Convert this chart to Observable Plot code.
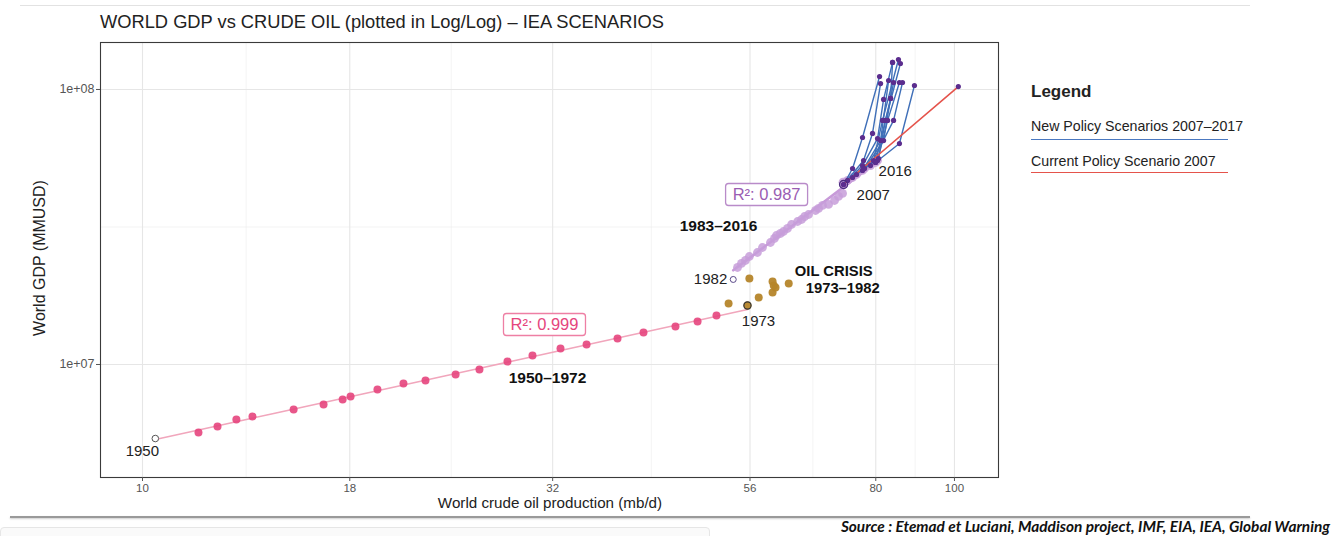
<!DOCTYPE html>
<html>
<head>
<meta charset="utf-8">
<script src="https://cdn.jsdelivr.net/npm/d3@7"></script>
<script src="https://cdn.jsdelivr.net/npm/@observablehq/plot@0.6"></script>
<style>
  body { margin: 0; background: #fff; font-family: "Liberation Sans", Arial, sans-serif; }
  #wrap { position: relative; width: 1332px; height: 536px; overflow: hidden; background: #fff; }
  #chart { position: absolute; left: 0; top: 0; }
  .abs { position: absolute; white-space: nowrap; }
  .title { left: 100px; top: 11px; font-size: 18.3px; color: #222; }
  .ytitle { left: 40px; top: 258px; font-size: 16px; color: #222; transform: translate(-50%, -50%) rotate(-90deg); }
  .xtitle { left: 550px; top: 502px; font-size: 15.2px; line-height: 15px; color: #222; transform: translate(-50%, -50%); }
  .legend-head { left: 1031px; top: 82px; font-size: 17px; font-weight: bold; color: #222; }
  .legend-item { left: 1031px; font-size: 14.2px; color: #222; }
  .legend-line { left: 1031px; width: 197px; height: 0; }
  .source { right: 2px; top: 517px; font-family: Lato, "Open Sans", sans-serif; font-weight: bold; font-style: italic; font-size: 15.4px; color: #111; }
  .rule-top { left: 20px; top: 5px; width: 1230px; height: 0; border-top: 1.5px solid #e2e2e2; }
  .rule-bottom { left: 10px; top: 516px; width: 1240px; height: 0; border-top: 2px solid #9a9a9a; box-shadow: 0 1px 2px #ccc; }
  .tab { left: 0; top: 527px; width: 708px; height: 20px; border: 1px solid #e6e6e6; border-radius: 4px; background: #fafafa; }
</style>
</head>
<body>
<div id="wrap">
  <div class="abs rule-top"></div>
  <div class="abs title">WORLD GDP vs CRUDE OIL (plotted in Log/Log) – IEA SCENARIOS</div>
  <div id="chart"></div>
  <div class="abs ytitle">World GDP (MMUSD)</div>
  <div class="abs xtitle">World crude oil production (mb/d)</div>
  <div class="abs legend-head">Legend</div>
  <div class="abs legend-item" style="top:118px;">New Policy Scenarios 2007–2017</div>
  <div class="abs legend-line" style="top:139px; border-top:1.6px solid #4a78c0;"></div>
  <div class="abs legend-item" style="top:153px;">Current Policy Scenario 2007</div>
  <div class="abs legend-line" style="top:172px; border-top:1.6px solid #e5534b;"></div>
  <div class="abs rule-bottom"></div>
  <div class="abs tab"></div>
  <div class="abs source">Source : Etemad et Luciani, Maddison project, IMF, EIA, IEA, Global Warning</div>
</div>
<script>
// ---- Historical series: world crude oil production (mb/d) and world GDP (MMUSD) ----
const years5072 = [1950,1951,1952,1953,1954,1955,1956,1957,1958,1959,1960,1961,1962,1963,1964,1965,1966,1967,1968,1969,1970,1971,1972];
const oil5072 = [10.37,11.72,12.37,13.05,13.66,15.35,16.71,17.64,18.04,19.47,20.96,22.31,24.30,26.00,28.15,30.22,32.72,35.23,38.46,41.40,45.33,48.26,50.92];
const gdp5072 = [5.38e6,5.66e6,5.95e6,6.31e6,6.47e6,6.86e6,7.15e6,7.46e6,7.65e6,8.11e6,8.53e6,8.75e6,9.20e6,9.59e6,1.025e7,1.078e7,1.144e7,1.182e7,1.243e7,1.307e7,1.375e7,1.434e7,1.507e7];

const years7382 = [1973,1974,1975,1976,1977,1978,1979,1980,1981,1982];
const oil7382 = [55.6,52.7,57.4,59.7,60.2,59.9,62.5,59.7,55.9,53.4];
const gdp7382 = [1.639e7,1.667e7,1.752e7,1.827e7,1.905e7,1.938e7,1.970e7,2.004e7,2.055e7,2.038e7];

const years8316 = [1983,1984,1985,1986,1987,1988,1989,1990,1991,1992,1993,1994,1995,1996,1997,1998,1999,2000,2001,2002,2003,2004,2005,2006,2007,2008,2009,2010,2011,2012,2013,2014,2015,2016];
const oil8316 = [54.05,54.66,55.28,55.90,57.19,58.01,59.34,60.02,60.36,61.05,61.58,62.28,63.00,64.09,64.82,65.37,66.12,67.44,68.02,68.79,69.97,71.17,71.98,72.81,73.02,73.85,72.90,74.90,75.75,77.05,77.49,78.82,79.94,80.40];
const gdp8316 = [2.253e7,2.330e7,2.389e7,2.470e7,2.554e7,2.663e7,2.777e7,2.872e7,2.945e7,2.995e7,3.045e7,3.123e7,3.229e7,3.311e7,3.367e7,3.452e7,3.511e7,3.631e7,3.693e7,3.787e7,3.819e7,3.948e7,4.083e7,4.187e7,4.513e7,4.668e7,4.600e7,4.786e7,4.908e7,5.076e7,5.161e7,5.290e7,5.426e7,5.518e7];

// ---- IEA New Policies Scenarios (one path per WEO edition) ----
const npsOil = [
  [73.02,74.90,77.05,80.86],
  [73.02,77.27,79.26,81.09],
  [73.85,77.05,80.40,81.79,83.90],
  [74.90,79.49,81.55,85.31],
  [75.75,80.63,82.22,85.79],
  [77.05,81.09,82.96],
  [77.49,81.79,83.43,84.14],
  [78.82,84.14,86.30],
  [79.94,85.55,89.27],
  [80.40,82.73,85.55],
  [79.94,83.43,83.90]
];
const npsGdp = [
  [4.513e7,5.161e7,6.69e7,1.115e8],
  [4.513e7,5.518e7,6.92e7,1.051e8],
  [4.668e7,5.290e7,6.63e7,9.20e7,1.254e8],
  [4.786e7,5.518e7,7.72e7,1.285e8],
  [4.908e7,5.61e7,7.72e7,1.243e8],
  [5.076e7,6.52e7,1.078e8],
  [5.161e7,6.52e7,9.28e7,1.060e8],
  [5.290e7,7.72e7,1.060e8],
  [5.426e7,6.36e7,1.034e8],
  [5.518e7,7.72e7,1.060e8],
  [5.426e7,9.28e7,1.254e8]
];
// ---- IEA Current Policy Scenario 2007 ----
const cpsOil = [73.02, 101.1];
const cpsGdp = [4.513e7, 1.025e8];

// ---- Axis ticks ----
const xTicks = [10, 18, 32, 56, 80, 100];
const xTickLabels = ["10", "18", "32", "56", "80", "100"];
const yTicks = [1e7, 1e8];
const yTickLabels = ["1e+07", "1e+08"];
const r2Labels = ["R²: 0.999", "R²: 0.987"];

// ---- Build tables ----
const zip = (ys, xs, gs) => ys.map((year, i) => ({year, oil: xs[i], gdp: gs[i]}));
const early = zip(years5072, oil5072, gdp5072);
const crisis = zip(years7382, oil7382, gdp7382);
const late = zip(years8316, oil8316, gdp8316);
const nps = npsOil.flatMap((xs, k) => xs.map((oil, i) => ({scenario: k, oil, gdp: npsGdp[k][i]})));
const cps = cpsOil.map((oil, i) => ({oil, gdp: cpsGdp[i]}));
const byYear = y => [...early, ...crisis, ...late].find(d => d.year === y);

// least squares fit in log/log space
function fitLogLog(rows) {
  const lx = rows.map(d => Math.log10(d.oil)), ly = rows.map(d => Math.log10(d.gdp));
  const mx = d3.mean(lx), my = d3.mean(ly);
  const b = d3.sum(lx, (v, i) => (v - mx) * (ly[i] - my)) / d3.sum(lx, v => (v - mx) ** 2);
  const a = my - b * mx;
  return x => 10 ** (a + b * Math.log10(x));
}
const fitEarly = fitLogLog(early);
const fitLate = fitLogLog(late);
const lineFrom = (f, x0, x1) => d3.range(0, 21).map(i => {
  const x = 10 ** (Math.log10(x0) + (Math.log10(x1) - Math.log10(x0)) * i / 20);
  return {oil: x, gdp: f(x)};
});
const fitEarlyLine = lineFrom(fitEarly, byYear(1950).oil, byYear(1973).oil);
const fitLateLine = lineFrom(fitLate, byYear(1982).oil, byYear(2016).oil);

// minor grid at geometric midpoints between ticks
const mid = (a, b) => Math.sqrt(a * b);
const xMinor = xTicks.slice(1).map((t, i) => mid(xTicks[i], t));
const yMinor = [mid(1e7, 1e8)];

// rounded rectangle used as the box of an R² label
const roundBox = (w, h, r) => ({
  draw(ctx) {
    const x0 = -w / 2, y0 = -h / 2, x1 = w / 2, y1 = h / 2;
    ctx.moveTo(x0 + r, y0);
    ctx.lineTo(x1 - r, y0); ctx.arcTo(x1, y0, x1, y0 + r, r);
    ctx.lineTo(x1, y1 - r); ctx.arcTo(x1, y1, x1 - r, y1, r);
    ctx.lineTo(x0 + r, y1); ctx.arcTo(x0, y1, x0, y1 - r, r);
    ctx.lineTo(x0, y0 + r); ctx.arcTo(x0, y0, x0 + r, y0, r);
    ctx.closePath();
  }
});

const pink = "#e5457d", brown = "#b5852a", lilac = "#c79ed9", purple = "#5b2d8e", blue = "#3f6fb8", red = "#e5534b";
const font = "Liberation Sans, Arial, sans-serif";

const p1965 = byYear(1965), p1973 = byYear(1973), p1979 = byYear(1979), p1982 = byYear(1982),
      p1993 = byYear(1993), p1996 = byYear(1996), p2007 = byYear(2007), p2016 = byYear(2016), p1950 = byYear(1950);

const chart = Plot.plot({
  width: 1332,
  height: 536,
  marginLeft: 100,
  marginRight: 334,
  marginTop: 42,
  marginBottom: 59,
  style: {fontFamily: font, background: "transparent", overflow: "visible"},
  x: {type: "log", domain: [8.877, 113.3], axis: null},
  y: {type: "log", domain: [3.882e6, 1.482e8], axis: null},
  marks: [
    Plot.gridX(xMinor, {stroke: "#ededed", strokeOpacity: 1, strokeWidth: 0.6}),
    Plot.gridY(yMinor, {stroke: "#ededed", strokeOpacity: 1, strokeWidth: 0.6}),
    Plot.gridX(xTicks, {stroke: "#e6e6e6", strokeOpacity: 1, strokeWidth: 1.1}),
    Plot.gridY(yTicks, {stroke: "#e6e6e6", strokeOpacity: 1, strokeWidth: 1.1}),
    Plot.frame({stroke: "#3a3a3a", strokeWidth: 1.1}),
    Plot.axisX({ticks: xTicks, tickFormat: d => xTickLabels[xTicks.indexOf(d)], tickSize: 4, tickPadding: 2, fontSize: 11.5, color: "#555", label: null}),
    Plot.axisY({ticks: yTicks, tickFormat: d => yTickLabels[yTicks.indexOf(d)], tickSize: 4, tickPadding: 2, fontSize: 12.5, color: "#555", label: null}),

    // regression lines
    Plot.line(fitEarlyLine, {x: "oil", y: "gdp", stroke: "#f1a6bc", strokeWidth: 1.6}),
    Plot.line(fitLateLine, {x: "oil", y: "gdp", stroke: "#c89ad9", strokeWidth: 2.6}),

    // historical points
    Plot.dot(early.filter(d => d.year > 1950), {x: "oil", y: "gdp", r: 4, fill: pink, fillOpacity: 0.9}),
    Plot.dot(crisis.filter(d => d.year < 1982), {x: "oil", y: "gdp", r: 4, fill: brown, fillOpacity: 0.95}),
    Plot.dot(late, {x: "oil", y: "gdp", r: 4.4, fill: lilac, fillOpacity: 0.85}),

    // IEA scenario paths
    Plot.line(nps, {x: "oil", y: "gdp", z: "scenario", stroke: blue, strokeWidth: 1.4}),
    Plot.line(cps, {x: "oil", y: "gdp", stroke: red, strokeWidth: 1.6}),
    Plot.dot(nps, {x: "oil", y: "gdp", r: 2.6, fill: purple}),
    Plot.dot(cps.slice(1), {x: "oil", y: "gdp", r: 2.6, fill: purple}),

    // marker rings on the regime breaks
    Plot.dot([p1950], {x: "oil", y: "gdp", r: 3.3, stroke: "#555", fill: "white", strokeWidth: 1}),
    Plot.dot([p1973], {x: "oil", y: "gdp", r: 3.6, stroke: "#333", strokeWidth: 1.2}),
    Plot.dot([p1982], {x: "oil", y: "gdp", r: 3.0, stroke: "#5b4a8a", fill: "white", strokeWidth: 1}),
    Plot.dot([p2007], {x: "oil", y: "gdp", r: 4, stroke: "#4b2c80", strokeWidth: 1.4}),

    // year labels
    Plot.text([p1950], {x: "oil", y: "gdp", text: () => "1950", dx: -13, dy: 13, fontSize: 15, fill: "#222"}),
    Plot.text([p1973], {x: "oil", y: "gdp", text: () => "1973", dx: 11, dy: 16, fontSize: 15, fill: "#222"}),
    Plot.text([p1982], {x: "oil", y: "gdp", text: () => "1982", dx: -6, dy: 0, textAnchor: "end", fontSize: 15, fill: "#222"}),
    Plot.text([p2007], {x: "oil", y: "gdp", text: () => "2007", dx: 13, dy: 11, textAnchor: "start", fontSize: 15, fill: "#222"}),
    Plot.text([p2016], {x: "oil", y: "gdp", text: () => "2016", dx: 1, dy: 11, textAnchor: "start", fontSize: 15, fill: "#222"}),

    // period labels
    Plot.text([p1965], {x: "oil", y: "gdp", text: () => "1950–1972", dx: 15, dy: 23, fontSize: 15.5, fontWeight: "bold", fill: "#111"}),
    Plot.text([p1993], {x: "oil", y: "gdp", text: () => "1983–2016", dx: -65, dy: -5, fontSize: 15.5, fontWeight: "bold", fill: "#111"}),
    Plot.text([p1979], {x: "oil", y: "gdp", text: () => "OIL CRISIS", dx: 45, dy: -12.5, fontSize: 14.8, fontWeight: "bold", fill: "#111"}),
    Plot.text([p1979], {x: "oil", y: "gdp", text: () => "1973–1982", dx: 54, dy: 4.5, fontSize: 14.8, fontWeight: "bold", fill: "#111"}),

    // R² boxes
    Plot.dot([p1965], {x: "oil", y: "gdp", dx: 12, dy: -31, symbol: roundBox(82, 22, 3), r: 5, fill: "white", stroke: "#ee7fa4", strokeWidth: 1.3}),
    Plot.text([p1965], {x: "oil", y: "gdp", text: () => r2Labels[0], dx: 12, dy: -31, fontSize: 16.5, fill: pink}),
    Plot.dot([p1996], {x: "oil", y: "gdp", dx: -31, dy: -27, symbol: roundBox(82, 22, 3), r: 5, fill: "white", stroke: "#b98bc9", strokeWidth: 1.3}),
    Plot.text([p1996], {x: "oil", y: "gdp", text: () => r2Labels[1], dx: -31, dy: -27, fontSize: 16.5, fill: "#9a5db3"})
  ]
});
document.getElementById("chart").appendChild(chart);
</script>
</body>
</html>
